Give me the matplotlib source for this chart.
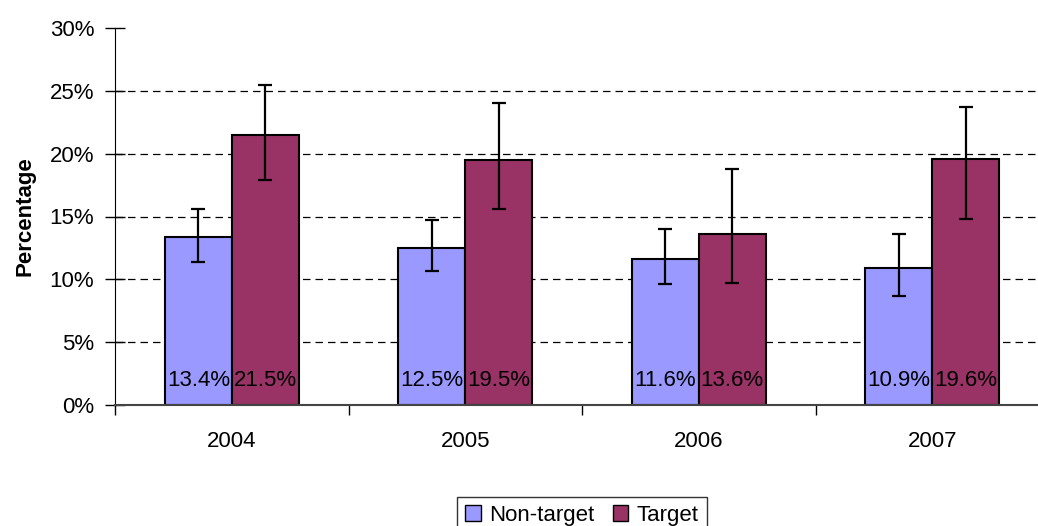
import matplotlib.pyplot as plt
import numpy as np
from matplotlib.patches import Patch

plt.rcParams['font.family'] = ['Liberation Sans', 'DejaVu Sans']

years = ["2004", "2005", "2006", "2007"]
non_target = [13.4, 12.5, 11.6, 10.9]
target = [21.5, 19.5, 13.6, 19.6]
# error bar ends (lower, upper)
non_target_lo = [11.4, 10.7, 9.6, 8.7]
non_target_hi = [15.6, 14.7, 14.0, 13.6]
target_lo = [17.9, 15.6, 9.7, 14.8]
target_hi = [25.5, 24.0, 18.8, 23.7]

c_non = "#9999ff"
c_tar = "#993366"

fig = plt.figure(figsize=(10.38, 5.26), dpi=100)
ax = fig.add_axes([115 / 1038, 121 / 526, 934 / 1038, 377 / 526])

x = np.arange(len(years))
w = 0.286

def err(vals, lo, hi):
    vals = np.array(vals)
    return [vals - np.array(lo), np.array(hi) - vals]

ax.bar(x - w / 2, non_target, w, color=c_non, edgecolor="black", linewidth=1.5,
       zorder=2)
ax.bar(x + w / 2, target, w, color=c_tar, edgecolor="black", linewidth=1.5,
       zorder=2)
ax.errorbar(x - w / 2, non_target, yerr=err(non_target, non_target_lo, non_target_hi),
            fmt="none", ecolor="black", elinewidth=1.6, capsize=5, capthick=1.6,
            zorder=3)
ax.errorbar(x + w / 2, target, yerr=err(target, target_lo, target_hi),
            fmt="none", ecolor="black", elinewidth=1.6, capsize=5, capthick=1.6,
            zorder=3)

for i in range(len(years)):
    ax.text(x[i] - w / 2, 1.1, "%.1f%%" % non_target[i], ha="center",
            va="bottom", fontsize=16, zorder=4)
    ax.text(x[i] + w / 2, 1.1, "%.1f%%" % target[i], ha="center",
            va="bottom", fontsize=16, zorder=4)

ax.set_xlim(-0.5, 3.5)
ax.set_ylim(0, 30)

for v in range(5, 30, 5):
    ax.axhline(v, color="black", linestyle=(0, (6, 4)), linewidth=0.9, zorder=1)

ax.set_yticks(range(0, 31, 5))
ax.set_yticklabels(["%d%%" % v for v in range(0, 31, 5)], fontsize=16)
ax.tick_params(axis="y", direction="inout", length=14, width=1, pad=8)

ax.set_xticks(x)
ax.set_xticklabels(years, fontsize=16)
ax.set_xticks(np.arange(-0.5, 4.0, 1.0), minor=True)
ax.tick_params(axis="x", which="major", length=0, pad=19)
ax.tick_params(axis="x", which="minor", direction="out", length=7, width=1)

for s in ["top", "right"]:
    ax.spines[s].set_visible(False)
ax.spines["left"].set_color("black")
ax.spines["bottom"].set_color("#444444")
ax.spines["bottom"].set_linewidth(1.5)

ax.set_ylabel("Percentage", fontsize=16, fontweight="bold", labelpad=10)

handles = [Patch(facecolor=c_non, edgecolor="black"),
           Patch(facecolor=c_tar, edgecolor="black")]
fig.legend(handles, ["Non-target", "Target"], loc="lower center",
           bbox_to_anchor=(582 / 1038, -0.035), ncol=2, fontsize=16,
           frameon=True, fancybox=False, edgecolor="black", handlelength=0.7,
           handleheight=0.7, handletextpad=0.4, columnspacing=0.8,
           borderpad=0.35)

fig.savefig("out.png", dpi=100)
